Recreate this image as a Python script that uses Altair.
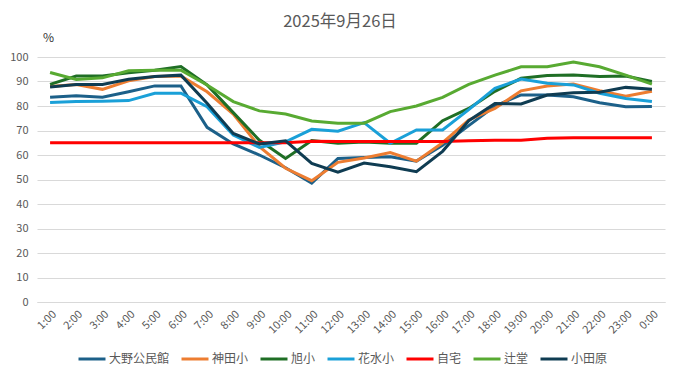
import altair as alt
import pandas as pd

hours = ["1:00", "2:00", "3:00", "4:00", "5:00", "6:00", "7:00", "8:00", "9:00", "10:00",
         "11:00", "12:00", "13:00", "14:00", "15:00", "16:00", "17:00", "18:00", "19:00",
         "20:00", "21:00", "22:00", "23:00", "0:00"]

sites = ["大野公民館", "神田小", "旭小", "花水小", "自宅", "辻堂", "小田原"]
colors = ["#1c6089", "#ed7d31", "#1f6e25", "#1aa0d8", "#ff0000", "#58aa32", "#0f3c52"]

oono = [83.6, 84.2, 83.6, 85.8, 88.2, 88.2, 71.3, 64.5, 60.0, 54.8, 48.5, 58.6,
        59.0, 59.3, 57.5, 64.0, 72.0, 80.0, 84.5, 84.5, 83.8, 81.3, 79.7, 79.8]
kanda = [88.0, 88.8, 86.8, 90.3, 92.0, 92.2, 85.8, 76.7, 63.4, 54.6, 49.5, 57.0,
         58.8, 61.0, 57.5, 65.0, 74.3, 79.0, 86.2, 88.2, 89.0, 86.2, 84.0, 86.0]
asahi = [88.8, 92.2, 92.2, 93.6, 94.6, 96.1, 88.6, 77.3, 66.0, 58.6, 65.9, 64.8,
         65.3, 64.8, 64.8, 74.0, 79.0, 86.0, 91.3, 92.4, 92.7, 92.0, 92.2, 90.0]
hanamizu = [81.4, 81.8, 81.9, 82.2, 85.2, 85.2, 79.7, 68.2, 63.1, 65.4, 70.5, 69.7,
            73.2, 64.8, 70.2, 70.2, 78.5, 87.2, 91.0, 89.3, 88.6, 85.2, 83.1, 81.8]
jitaku = [65.0, 65.0, 65.0, 65.0, 65.0, 65.0, 65.0, 65.0, 65.0, 65.0, 65.6, 65.5,
          65.5, 65.5, 65.5, 65.5, 65.8, 66.0, 66.0, 66.8, 67.0, 67.0, 67.0, 67.0]
tsujido = [93.7, 90.8, 91.5, 94.4, 94.6, 94.6, 88.6, 81.8, 78.0, 76.7, 73.9, 73.0,
           73.0, 77.7, 80.0, 83.5, 88.8, 92.6, 96.0, 96.0, 97.9, 96.0, 92.6, 88.9]
odawara = [87.8, 88.8, 88.8, 90.9, 92.0, 92.6, 81.1, 68.8, 64.5, 65.8, 56.6, 53.0,
           56.7, 55.2, 53.2, 61.5, 74.0, 81.0, 80.8, 84.5, 85.4, 85.6, 87.6, 86.8]

series = [oono, kanda, asahi, hanamizu, jitaku, tsujido, odawara]

rows = []
for name, vals in zip(sites, series):
    for h, v in zip(hours, vals):
        rows.append({"time": h, "site": name, "value": v})
df = pd.DataFrame(rows)

FONT = "Noto Sans CJK JP"
GRAY = "#595959"

chart = alt.Chart(df).mark_line(strokeWidth=3, strokeJoin="miter").encode(
    x=alt.X("time:N", sort=hours,
            scale=alt.Scale(type="point", padding=0.5),
            axis=alt.Axis(title=None, labelAngle=-45, labelFontSize=11, labelColor=GRAY,
                          labelFont=FONT, ticks=False, domain=True, domainColor="#d9d9d9",
                          labelPadding=6, grid=False)),
    y=alt.Y("value:Q", scale=alt.Scale(domain=[0, 100], nice=False),
            axis=alt.Axis(values=list(range(0, 101, 10)), title="%", titleAngle=0,
                          titleX=11, titleY=-20, titleAlign="center", titleBaseline="middle",
                          titleFontSize=12, titleFontWeight="normal", titleColor="#333333",
                          titleFont=FONT,
                          labelFontSize=11, labelColor=GRAY, labelFont=FONT, labelPadding=9,
                          ticks=False, domain=False, gridColor="#d9d9d9", gridWidth=1)),
    color=alt.Color("site:N", sort=sites,
                    scale=alt.Scale(domain=sites, range=colors),
                    legend=alt.Legend(title=None, orient="none", direction="horizontal",
                                      legendX=40, legendY=287, symbolType="stroke",
                                      symbolSize=729, symbolStrokeWidth=3,
                                      labelFontSize=12, labelColor=GRAY, labelFont=FONT,
                                      labelOffset=2, columnPadding=5)),
).properties(
    width=628, height=245,
    title=alt.TitleParams("2025年9月26日", fontSize=16.5, font=FONT, color=GRAY,
                          fontWeight="normal", anchor="middle", dx=-11, offset=1),
    padding={"left": 29, "top": 49, "right": 8, "bottom": 76},
    autosize=alt.AutoSizeParams(type="none"),
).configure_view(stroke=None)

chart.save("out.html", embed_options={"renderer": "svg", "actions": False})
